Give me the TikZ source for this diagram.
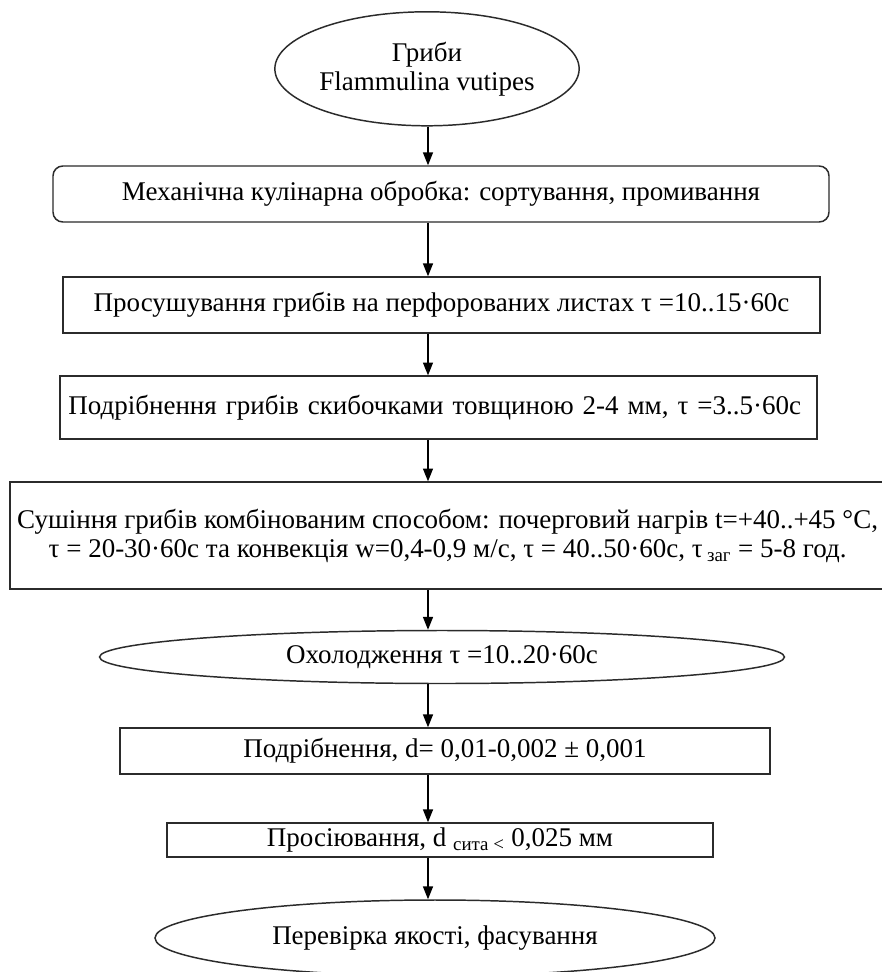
\documentclass[tikz,border=0pt]{standalone}
\usepackage{fontspec}
\setmainfont{Liberation Serif}
\usepackage{tikz}
\usetikzlibrary{arrows.meta,positioning,shapes.geometric}
\definecolor{linegrey}{HTML}{2B2B2B}
\tikzset{
  stepbox/.style={draw=linegrey, line width=1.05pt, fill=white,
                  align=center, inner sep=0pt},
  roundbox/.style={stepbox, rounded corners=7pt},
  endcap/.style={ellipse, draw=linegrey, line width=1.05pt, fill=white,
                 align=center, inner sep=0pt},
  flow/.style={-{Triangle[length=3.2mm,width=2.5mm]}, line width=0.85pt,
               draw=black},
}
\newcommand{\tsub}[1]{\textsubscript{#1}}

\begin{document}
\begin{tikzpicture}[font=\fontsize{19.2}{20.6}\selectfont]
\useasboundingbox (0,0) rectangle (22.05,-24.3);
\fill[white] (0,0) rectangle (22.05,-24.3);

% ========================= nodes, top to bottom ==========================
\node[endcap, minimum width=6.6cm, minimum height=2.85cm]
   at (10.675,-1.72) (src) {Гриби\\Flammulina vutipes};
\node[roundbox, minimum width=19.4cm, minimum height=1.4cm]
   at (11.025,-4.85) (mech) {Механічна кулінарна обробка: сортування, промивання};
\node[stepbox, minimum width=18.925cm, minimum height=1.4cm]
   at (11.04,-7.625) (dryp) {Просушування грибів на перфорованих листах τ =10..15·60с};
\node[stepbox, minimum width=18.925cm, minimum height=1.575cm,
      text width=18.5cm, align=left, inner xsep=0.2cm]
   at (10.96,-10.19) (slice) {Подрібнення грибів скибочками товщиною 2-4 мм, τ =3..5·60с};
\node[stepbox, minimum width=21.875cm, minimum height=2.675cm]
   at (11.19,-13.39) (combo) {Сушіння грибів комбінованим способом: почерговий нагрів t=+40..+45 °C,\\
      τ = 20-30·60с та конвекція w=0,4-0,9 м/с, τ = 40..50·60с, τ\,\tsub{заг} = 5-8 год.};
\node[endcap, minimum width=17.125cm, minimum height=1.325cm]
   at (11.05,-16.425) (cool) {Охолодження τ =10..20·60с};
\node[stepbox, minimum width=16.25cm, minimum height=1.15cm]
   at (11.125,-18.775) (grind) {Подрібнення, d= 0,01-0,002 ± 0,001};
\node[stepbox, minimum width=13.65cm, minimum height=0.85cm]
   at (11.0,-21.0) (sieve) {Просіювання, d \tsub{сита <} 0,025 мм};
\node[endcap, minimum width=14.0cm, minimum height=1.9cm]
   at (10.875,-23.45) (pack) {Перевірка якості, фасування};

% ========================= arrows ========================================
\coordinate (ax) at (10.7,0);
\draw[flow] (ax |- src.south)   -- (ax |- mech.north);
\draw[flow] (ax |- mech.south)  -- (ax |- dryp.north);
\draw[flow] (ax |- dryp.south)  -- (ax |- slice.north);
\draw[flow] (ax |- slice.south) -- (ax |- combo.north);
\draw[flow] (ax |- combo.south) -- (ax |- cool.north);
\draw[flow] (ax |- cool.south)  -- (ax |- grind.north);
\draw[flow] (ax |- grind.south) -- (ax |- sieve.north);
\draw[flow] (ax |- sieve.south) -- (ax |- pack.north);
\end{tikzpicture}
\end{document}
